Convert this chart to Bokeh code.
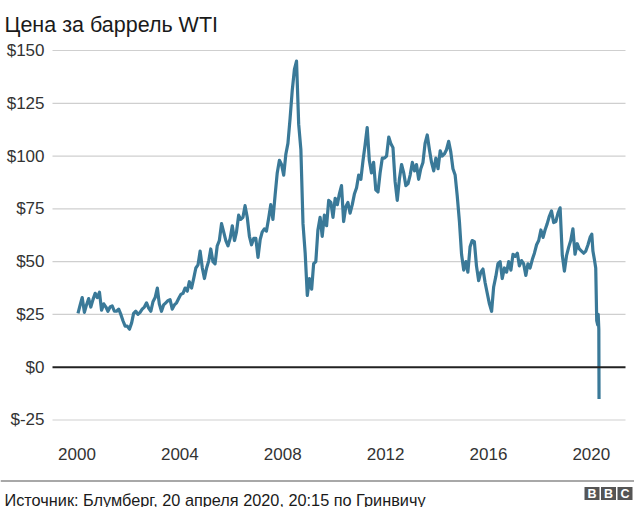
import pandas as pd
from bokeh.plotting import figure
from bokeh.models import Range1d
from bokeh.core.properties import value
from bokeh.embed import file_html
from bokeh.resources import INLINE

# ---------------- data ($ per barrel) ----------------
p2000 = [25.5, 29.5, 33, 26, 29.5, 32.5, 28.5, 32, 35, 33, 35.5, 27]
p2001 = [30, 28.5, 26.5, 28.5, 29, 26.5, 26.5, 27.5, 25, 22, 19.5, 19.5]
p2002 = [18, 21, 25.5, 26.5, 25, 26, 27.5, 28.5, 30.5, 28, 26.5, 31]
p2003 = [33, 37.5, 30, 26.5, 29.5, 30.5, 31.5, 32, 27.5, 29.5, 30.5, 32.5]
p2004 = [34.5, 35, 37.5, 36, 40.5, 37.5, 42, 47, 48.5, 55, 47, 42]
p2005 = [47, 50.5, 56, 50, 49, 57.5, 60, 68, 64, 60, 57.5, 61]
p2006 = [67, 60, 64, 72, 70, 71, 76.5, 71, 62, 58, 61, 61]
p2007 = [52, 60.5, 64, 65.5, 64.5, 70.5, 77, 70, 81.5, 92, 98, 96]
p2008 = [91, 101, 106, 118, 131, 141, 145, 115, 103, 68, 54, 34]
p2009 = [42, 37, 49, 50, 65, 71, 62, 72, 67, 79, 78, 71]
p2010 = [80, 77, 82, 86, 69, 76, 78, 73, 77, 82, 85, 91]
p2011 = [89, 98, 105, 113.5, 98, 92, 97, 84, 83, 92, 99, 99]
p2012 = [100, 109, 106, 104, 88, 79, 89, 96, 92, 86, 87, 91]
p2013 = [97, 93, 96, 89, 94, 97, 106, 110, 103, 97, 93, 99]
p2014 = [94, 102.5, 100, 101, 103, 107, 102, 94, 91, 81, 69, 53.5]
p2015 = [46, 50, 45, 57, 60, 59.5, 48, 41, 45, 46.5, 40, 35]
p2016 = [30, 26.5, 38, 43, 49, 50, 42, 47, 45, 50, 46, 53.5]
p2017 = [52.5, 54, 48, 50.5, 49, 43.5, 49, 47, 51, 54, 58, 60]
p2018 = [65, 61.5, 65, 68, 71.5, 74, 68.5, 69, 73, 75.5, 53, 45.5]
p2019 = [53, 57, 60, 65.5, 53.5, 58.5, 56, 55, 54, 55, 58, 61.5]
dates_2020 = ["2020-01-08", "2020-01-24", "2020-02-14", "2020-03-04", "2020-03-18",
              "2020-04-01", "2020-04-08", "2020-04-17", "2020-04-20"]
p2020 = [63, 55, 51, 47, 22, 20, 25, 18, -15]

yearly = [p2000, p2001, p2002, p2003, p2004, p2005, p2006, p2007, p2008, p2009,
          p2010, p2011, p2012, p2013, p2014, p2015, p2016, p2017, p2018, p2019]

x_ticks = [2000, 2004, 2008, 2012, 2016, 2020]
x_tick_labels = ["2000", "2004", "2008", "2012", "2016", "2020"]
y_ticks = [-25, 0, 25, 50, 75, 100, 125, 150]
y_tick_labels = ["$-25", "$0", "$25", "$50", "$75", "$100", "$125", "$150"]

title_text = "Цена за баррель WTI"
source_text = "Источник: Блумберг, 20 апреля 2020, 20:15 по Гринвичу"
logo_letters = ["B", "B", "C"]

# ---------------- build series ----------------
dates = []
prices = []
for i, vals in enumerate(yearly):
    yr = 2000 + i
    for m, v in enumerate(vals):
        dates.append(pd.Timestamp(year=yr, month=m + 1, day=15))
        prices.append(v)
dates += [pd.Timestamp(d) for d in dates_2020]
prices += p2020

# ---------------- layout geometry (canvas pixels) ----------------
FONT = "Liberation Sans"
W, H = 634, 507
GRID_L, GRID_R = 52, 625          # horizontal extent of the plotting area
X0_PX, PX_PER_YEAR = 76.5, 25.715  # x pixel of 1 Jan 2000, pixels per year
Y150_PX, PX_PER_USD = 50.0, 2.1114  # y pixel of $150, pixels per dollar

MS_YEAR = 365.25 * 86400000
T2000 = pd.Timestamp("2000-01-01").value / 1e6


def year_ms(y):
    return pd.Timestamp(year=y, month=1, day=1).value / 1e6


x_start = T2000 + (0 - X0_PX) / PX_PER_YEAR * MS_YEAR
x_end = T2000 + (W - X0_PX) / PX_PER_YEAR * MS_YEAR
y_top = 150 + Y150_PX / PX_PER_USD
y_bottom = 150 - (H - Y150_PX) / PX_PER_USD

p = figure(width=W, height=H, x_axis_type=None, y_axis_type=None,
           x_range=Range1d(x_start, x_end), y_range=Range1d(y_bottom, y_top),
           toolbar_location=None, output_backend="svg", min_border=0)
p.extra_x_ranges = {"px": Range1d(0, W)}
p.extra_y_ranges = {"px": Range1d(H, 0)}
p.outline_line_color = None
p.background_fill_color = "white"
p.border_fill_color = "white"
p.grid.visible = False

# horizontal grid lines (x in pixel space, y in data space)
grid_vals = [t for t in y_ticks if t != 0]
p.segment(x0=[GRID_L] * len(grid_vals), x1=[GRID_R] * len(grid_vals),
          y0=grid_vals, y1=grid_vals, line_color="#cfcfcf", line_width=1.2,
          x_range_name="px")

# y tick labels
p.text(x=[44] * len(y_ticks), y=y_ticks, text=y_tick_labels, x_range_name="px",
       text_font=value(FONT), text_font_size="17px", text_color="#333333",
       text_align="right", text_baseline="middle")

# x tick labels
p.text(x=[year_ms(y) for y in x_ticks], y=[453] * len(x_ticks), text=x_tick_labels,
       y_range_name="px", text_font=value(FONT), text_font_size="17px",
       text_color="#333333", text_align="center", text_baseline="middle")

# price line
p.line(dates, prices, line_color="#3a7998", line_width=3.2, line_join="round")

# zero line (drawn above the price line as in the reference)
p.segment(x0=[GRID_L], x1=[GRID_R], y0=[0], y1=[0], line_color="#222222",
          line_width=2, x_range_name="px")

# title
p.text(x=[4], y=[24], text=[title_text], x_range_name="px", y_range_name="px",
       text_font=value(FONT), text_font_size="21.5px", text_color="#1a1a1a",
       text_align="left", text_baseline="alphabetic")

# footer separator
p.segment(x0=[0], x1=[W], y0=[480.5], y1=[480.5], line_color="#a8a8a8",
          line_width=2, x_range_name="px", y_range_name="px")

# source
p.text(x=[4], y=[499], text=[source_text], x_range_name="px", y_range_name="px",
       text_font=value(FONT), text_font_size="16.3px", text_color="#1a1a1a",
       text_align="left", text_baseline="alphabetic")

# BBC blocks
box_x = [591.5, 608, 624.5]
p.rect(x=box_x, y=[493] * 3, width=15, height=13, x_range_name="px",
       y_range_name="px", fill_color="#555555", line_color=None)
p.text(x=box_x, y=[493.5] * 3, text=logo_letters, x_range_name="px", y_range_name="px",
       text_font=value(FONT), text_font_size="12.5px", text_font_style="bold",
       text_color="white", text_align="center", text_baseline="middle")

open("out.html", "w").write(file_html(p, INLINE))
